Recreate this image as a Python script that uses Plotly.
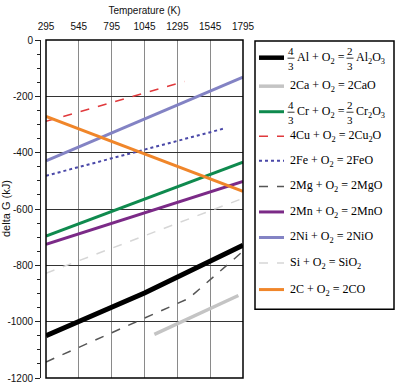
import plotly.graph_objects as go

# ---------------- data ----------------
T_al = [295, 1045, 1795]
G_al = [-1050, -898, -729]
T_ca = [1120, 1760]
G_ca = [-1045, -907]
T_cr = [295, 1795]
G_cr = [-696, -434]
T_cu = [295, 1350]
G_cu = [-289, -147]
T_fe = [295, 1645]
G_fe = [-482, -315]
T_mg = [295, 1380, 1795]
G_mg = [-1143, -918, -750]
T_mn = [295, 1795]
G_mn = [-725, -502]
T_ni = [295, 1795]
G_ni = [-429, -132]
T_si = [295, 1795]
G_si = [-828, -562]
T_c = [295, 1795]
G_c = [-271, -537]

x_ticks = [295, 545, 795, 1045, 1295, 1545, 1795]
y_ticks = [0, -200, -400, -600, -800, -1000, -1200]
y_ticktext = ["0", "-200", "-400", "-600", "-800", "-1000", "-1200"]

# ---------------- styles ----------------
series = [
    (T_al, G_al, "#000000", 5, "solid"),
    (T_ca, G_ca, "#c4c4c4", 3.5, "solid"),
    (T_cr, G_cr, "#0f8a4e", 3, "solid"),
    (T_cu, G_cu, "#e0393c", 1.5, "dash"),
    (T_fe, G_fe, "#4a48a8", 2, "dot"),
    (T_mg, G_mg, "#555555", 1.5, "dash"),
    (T_mn, G_mn, "#7b2a87", 3, "solid"),
    (T_ni, G_ni, "#8383c4", 3, "solid"),
    (T_si, G_si, "#d6d6d6", 1.5, "dash"),
    (T_c, G_c, "#f0862a", 3, "solid"),
]

W, H = 398, 387
L, R = 40, 243       # paper left/right in px
TOP, BOT = 40, 384   # plot top/bottom in px

def px(x):
    return (x - L) / (R - L)

def py(y):
    return (BOT - y) / (BOT - TOP)

fig = go.Figure()
for T, G, col, w, dash in series:
    fig.add_trace(go.Scatter(x=T, y=G, mode="lines",
                             line=dict(color=col, width=w, dash=dash),
                             showlegend=False, hoverinfo="skip"))

fig.update_layout(
    width=W, height=H,
    margin=dict(l=L, r=W - R, t=TOP, b=H - BOT),
    paper_bgcolor="white", plot_bgcolor="white",
    font=dict(family="Liberation Sans", size=10, color="#111"),
    xaxis=dict(side="top", range=[295, 1795], domain=[6 / (R - L), 1],
               tickvals=x_ticks, ticks="", showgrid=True,
               gridcolor="#8a8a8a", gridwidth=1, zeroline=False,
               ticklabelstandoff=7,
               title=dict(text="Temperature (K)", standoff=4,
                          font=dict(size=10)),
               showline=False),
    yaxis=dict(range=[-1200, 0], anchor="free", position=0,
               tickvals=y_ticks, ticktext=y_ticktext,
               ticklabeloverflow="allow",
               ticks="outside", ticklen=5, tickcolor="#222",
               showline=True, linecolor="#222", linewidth=1,
               minor=dict(dtick=50, ticks="outside", ticklen=3,
                          tickcolor="#222", showgrid=False),
               showgrid=True, gridcolor="#333", gridwidth=1,
               zeroline=False),
)

# frame of the plot area
fig.add_shape(type="rect", xref="x domain", yref="paper",
              x0=0, x1=1, y0=0, y1=1,
              line=dict(color="black", width=1.5), layer="above")

# y axis title
fig.add_annotation(text="delta G (kJ)", xref="paper", yref="paper",
                   x=px(6), y=py(212), textangle=-90, showarrow=False,
                   font=dict(size=11, family="Liberation Sans"),
                   xanchor="center", yanchor="middle")

# ---------------- custom legend ----------------
fig.add_shape(type="rect", xref="paper", yref="paper",
              x0=px(255), x1=px(394), y0=py(41), y1=py(314),
              line=dict(color="black", width=1.5), fillcolor="white")

rows_y = [58, 87, 113, 138, 163, 189, 215, 241, 267, 294]
serif = "Liberation Serif"
fs = 12

def txt(s, x, y, size=fs):
    fig.add_annotation(text=s, xref="paper", yref="paper", x=px(x), y=py(y),
                       showarrow=False, xanchor="left", yanchor="middle",
                       font=dict(family=serif, size=size, color="#000"))

def frac(num, den, xc, yc):
    fig.add_annotation(text=num, xref="paper", yref="paper", x=px(xc), y=py(yc - 7),
                       showarrow=False, xanchor="center", yanchor="middle",
                       font=dict(family=serif, size=11, color="#000"))
    fig.add_annotation(text=den, xref="paper", yref="paper", x=px(xc), y=py(yc + 8),
                       showarrow=False, xanchor="center", yanchor="middle",
                       font=dict(family=serif, size=11, color="#000"))
    fig.add_shape(type="line", xref="paper", yref="paper",
                  x0=px(xc - 3.5), x1=px(xc + 3.5), y0=py(yc + 0.5), y1=py(yc + 0.5),
                  line=dict(color="black", width=0.8))

labels = [
    None,
    "2Ca + O<sub>2</sub> = 2CaO",
    None,
    "4Cu + O<sub>2</sub> = 2Cu<sub>2</sub>O",
    "2Fe + O<sub>2</sub> = 2FeO",
    "2Mg + O<sub>2</sub> = 2MgO",
    "2Mn + O<sub>2</sub> = 2MnO",
    "2Ni + O<sub>2</sub> = 2NiO",
    "Si + O<sub>2</sub> = SiO<sub>2</sub>",
    "2C + O<sub>2</sub> = 2CO",
]

for i, ((T, G, col, w, dash), yr) in enumerate(zip(series, rows_y)):
    fig.add_shape(type="line", xref="paper", yref="paper",
                  x0=px(259), x1=px(284), y0=py(yr), y1=py(yr),
                  line=dict(color=col, width=min(w, 4.5), dash=dash))
    if labels[i] is not None:
        txt(labels[i], 288, yr)

# fraction entries
frac("4", "3", 291, rows_y[0])
txt("Al + O<sub>2</sub> =", 295, rows_y[0])
frac("2", "3", 350, rows_y[0])
txt("Al<sub>2</sub>O<sub>3</sub>", 354, rows_y[0])

frac("4", "3", 291, rows_y[2])
txt("Cr + O<sub>2</sub> =", 295, rows_y[2])
frac("2", "3", 350, rows_y[2])
txt("Cr<sub>2</sub>O<sub>3</sub>", 354, rows_y[2])

fig.write_html("out.html")
